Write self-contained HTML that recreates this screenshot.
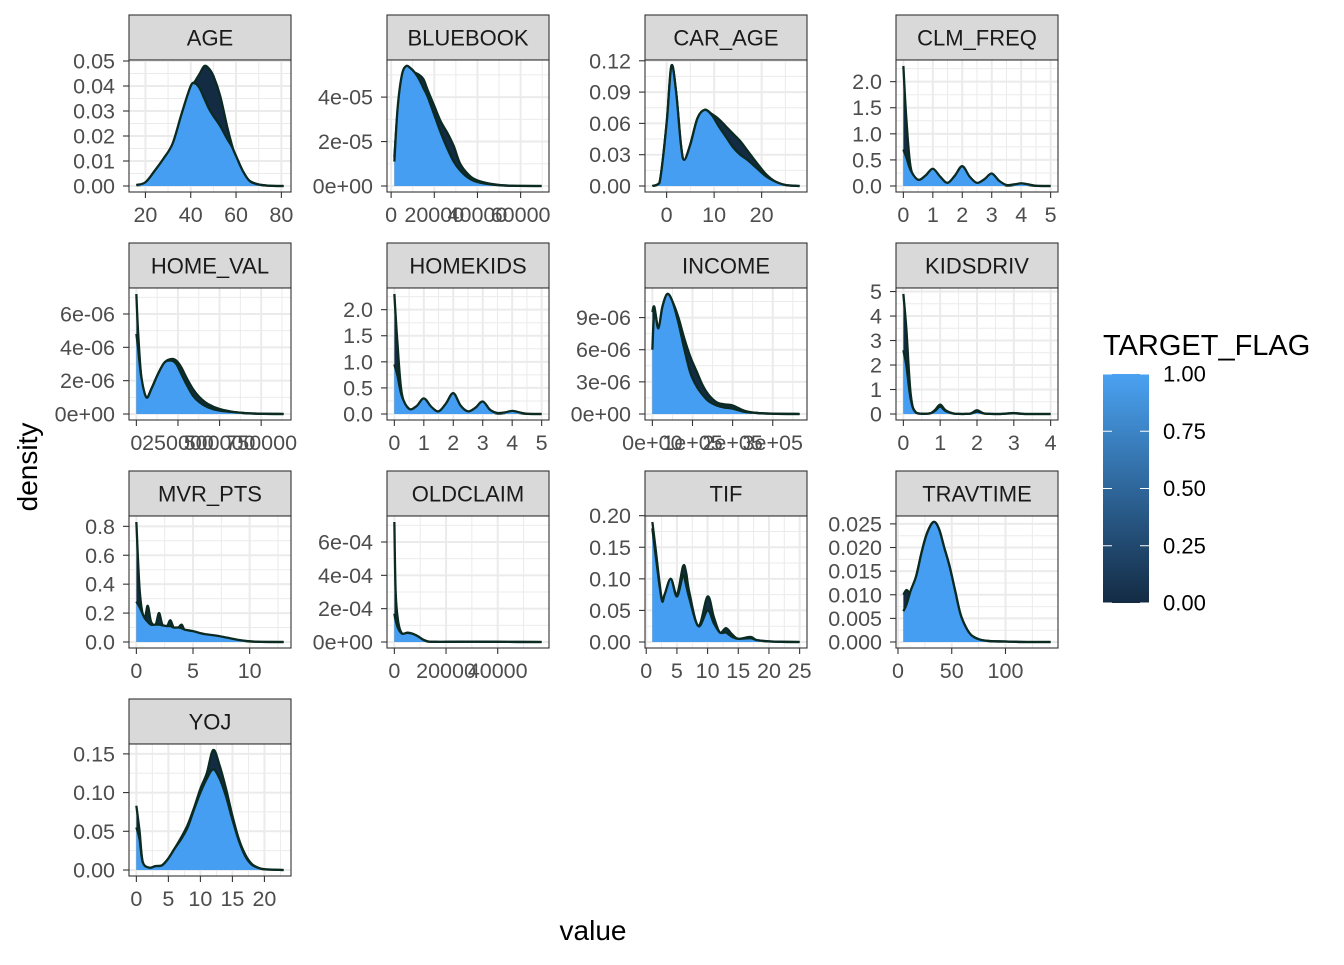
<!DOCTYPE html>
<html><head><meta charset="utf-8">
<style>
html,body{margin:0;padding:0;background:#fff;}
svg text{font-family:"Liberation Sans",Arial,sans-serif;}
</style></head>
<body>
<svg id="chart" width="1344" height="960" viewBox="0 0 1344 960" xmlns="http://www.w3.org/2000/svg">
<defs>
<linearGradient id="cbar" x1="0" y1="1" x2="0" y2="0">
<stop offset="0" stop-color="#132B43"/><stop offset="1" stop-color="#4aa2f2"/>
</linearGradient>
</defs>
<text x="0" y="0" transform="translate(37,467) rotate(-90)" font-size="28" text-anchor="middle" fill="#000">density</text>
<text x="593" y="940" font-size="28" text-anchor="middle" fill="#000">value</text>
<g>
<text x="1103" y="355" font-size="29" fill="#000">TARGET_FLAG</text>
<rect x="1103" y="374" width="46" height="229" fill="url(#cbar)"/>
<g id="legendTicks"></g>
</g>
<g id="panels"></g>
</svg>
<script>
// ---- data ----
const panelNames = ["AGE","BLUEBOOK","CAR_AGE","CLM_FREQ","HOME_VAL","HOMEKIDS","INCOME","KIDSDRIV","MVR_PTS","OLDCLAIM","TIF","TRAVTIME","YOJ"];

const ageX = [16,20,24,28,32,36,40,42,44,46,48,50,53,56,58,60,63,66,70,75,81];
const ageFlag0 = [0.0003,0.001,0.005,0.010,0.016,0.028,0.039,0.042,0.045,0.048,0.047,0.044,0.036,0.024,0.017,0.011,0.005,0.002,0.0006,0.0001,0];
const ageFlag1 = [0.0004,0.0015,0.006,0.011,0.017,0.029,0.040,0.041,0.039,0.035,0.031,0.028,0.024,0.019,0.016,0.012,0.006,0.002,0.0006,0.0001,0];

const bluebookX = [1500,3000,5000,7000,9000,11000,13000,15000,17000,20000,23000,26000,29000,32000,36000,40000,48000,56000,69740];
const bluebookFlag0 = [1.3e-5,3.3e-5,4.8e-5,5.3e-5,5.2e-5,5.1e-5,5.0e-5,4.8e-5,4.3e-5,3.6e-5,2.9e-5,2.4e-5,1.8e-5,1.0e-5,5e-6,2.5e-6,7e-7,1e-7,0];
const bluebookFlag1 = [1.1e-5,3.5e-5,5.0e-5,5.4e-5,5.3e-5,5.1e-5,4.8e-5,4.4e-5,4.0e-5,3.2e-5,2.4e-5,1.7e-5,1.1e-5,7e-6,3.5e-6,1.8e-6,5e-7,1e-7,0];

const carAgeX = [-3,-1.5,0,1,2,3,3.7,5,6.5,8,9.5,11,12.5,14,15.5,17,19,21,23,25,28];
const carAgeFlag0 = [0,0.003,0.06,0.115,0.09,0.04,0.025,0.04,0.065,0.073,0.069,0.064,0.057,0.05,0.043,0.034,0.022,0.011,0.004,0.001,0];
const carAgeFlag1 = [0,0.003,0.06,0.115,0.09,0.04,0.025,0.04,0.065,0.073,0.068,0.057,0.047,0.037,0.03,0.025,0.017,0.009,0.004,0.001,0];

const clmFreqX = [0,0.1,0.25,0.5,0.75,1,1.25,1.5,1.75,2,2.25,2.5,2.75,3,3.25,3.5,3.75,4,4.25,4.5,5];
const clmFreqFlag0 = [2.3,1.3,0.35,0.08,0.15,0.28,0.12,0.03,0.15,0.30,0.12,0.03,0.1,0.22,0.08,0.01,0.02,0.05,0.02,0.003,0];
const clmFreqFlag1 = [0.7,0.55,0.3,0.12,0.2,0.33,0.18,0.06,0.2,0.38,0.18,0.06,0.13,0.24,0.1,0.02,0.03,0.05,0.03,0.005,0];

const homeValX = [0,10000,30000,60000,90000,130000,170000,210000,240000,270000,300000,340000,380000,430000,500000,600000,700000,885000];
const homeValFlag0 = [7.2e-6,5e-6,2.2e-6,1.0e-6,1.5e-6,2.4e-6,3.1e-6,3.3e-6,3.2e-6,2.8e-6,2.2e-6,1.5e-6,1.0e-6,6e-7,3e-7,1e-7,3e-8,0];
const homeValFlag1 = [4.8e-6,4e-6,2.2e-6,1.0e-6,1.5e-6,2.4e-6,3.1e-6,3.2e-6,3.0e-6,2.4e-6,1.8e-6,1.1e-6,7e-7,4e-7,2e-7,1e-7,3e-8,0];

const homeKidsX = [0,0.1,0.25,0.5,0.75,1,1.25,1.5,1.75,2,2.25,2.5,2.75,3,3.25,3.5,3.75,4,4.25,4.5,5];
const homeKidsFlag0 = [2.3,1.4,0.4,0.07,0.12,0.24,0.1,0.03,0.15,0.32,0.12,0.03,0.08,0.2,0.06,0.01,0.02,0.05,0.02,0.003,0];
const homeKidsFlag1 = [0.95,0.75,0.35,0.1,0.15,0.3,0.14,0.05,0.2,0.4,0.16,0.05,0.12,0.24,0.08,0.02,0.03,0.06,0.03,0.005,0];

const incomeX = [0,5000,15000,25000,37000,50000,65000,80000,95000,110000,125000,140000,160000,180000,200000,230000,260000,300000,367000];
const incomeFlag0 = [9.5e-6,1.0e-5,8e-6,1.0e-5,1.12e-5,1.05e-5,9.0e-6,7e-6,5.3e-6,4e-6,2.7e-6,1.8e-6,1.1e-6,9e-7,8e-7,3e-7,1e-7,3e-8,0];
const incomeFlag1 = [6e-6,9.5e-6,8e-6,1.0e-5,1.12e-5,1.05e-5,8.5e-6,6e-6,3.8e-6,2.6e-6,1.8e-6,1.2e-6,8e-7,6e-7,5e-7,2e-7,1e-7,3e-8,0];

const kidsDrivX = [0,0.08,0.2,0.35,0.7,0.85,1,1.15,1.4,1.8,2,2.2,2.6,3,3.3,4];
const kidsDrivFlag0 = [4.9,3.5,0.8,0.05,0.02,0.15,0.38,0.15,0.01,0.01,0.15,0.02,0,0.04,0,0];
const kidsDrivFlag1 = [2.6,2.0,0.6,0.05,0.02,0.12,0.3,0.12,0.01,0.01,0.1,0.02,0,0.03,0,0];

const mvrPtsX = [0,0.3,0.7,1,1.3,1.7,2,2.3,2.7,3,3.3,3.7,4,4.3,5,6,7,8,9,10,11,13];
const mvrPtsFlag0 = [0.83,0.35,0.16,0.25,0.14,0.12,0.2,0.12,0.11,0.15,0.10,0.1,0.12,0.08,0.07,0.05,0.04,0.025,0.012,0.004,0.001,0];
const mvrPtsFlag1 = [0.28,0.24,0.17,0.14,0.12,0.12,0.12,0.115,0.11,0.11,0.10,0.1,0.095,0.085,0.075,0.055,0.045,0.03,0.015,0.005,0.001,0];

const oldClaimX = [0,500,1500,3000,5000,7000,9000,11000,13000,16000,20000,30000,40000,57000];
const oldClaimFlag0 = [7.2e-4,3e-4,1.2e-4,5e-5,5.5e-5,5e-5,3.5e-5,1.5e-5,3e-6,1e-6,1e-6,2e-6,1e-6,0];
const oldClaimFlag1 = [1.7e-4,1.3e-4,8e-5,5e-5,5.5e-5,5e-5,3.5e-5,1.5e-5,3e-6,1e-6,1e-6,2e-6,1e-6,0];

const tifX = [1,1.5,2.5,3,4,5,6,6.5,7,8.5,10,11,12,13,14,15,17,18,20,22,25];
const tifFlag0 = [0.19,0.15,0.07,0.075,0.1,0.075,0.12,0.11,0.08,0.025,0.072,0.04,0.015,0.022,0.012,0.005,0.008,0.003,0.001,0.0003,0];
const tifFlag1 = [0.18,0.14,0.068,0.075,0.1,0.072,0.105,0.09,0.07,0.025,0.05,0.03,0.015,0.015,0.008,0.005,0.006,0.003,0.001,0.0003,0];

const travTimeX = [5,8,12,17,22,27,33,38,43,48,53,58,63,68,75,85,100,120,142];
const travTimeFlag0 = [0.01,0.011,0.0105,0.014,0.019,0.023,0.0254,0.024,0.02,0.016,0.011,0.006,0.0032,0.0015,0.0006,0.0002,0.0001,0,0];
const travTimeFlag1 = [0.0065,0.008,0.011,0.014,0.019,0.023,0.0254,0.024,0.02,0.016,0.011,0.006,0.0032,0.0015,0.0006,0.0002,0.0001,0,0];

const yojX = [0,0.5,1,2,3,4,5,6,7,8,9,10,11,12,13,14,15,16,17,18,19,20,23];
const yojFlag0 = [0.083,0.05,0.01,0.003,0.005,0.006,0.015,0.028,0.042,0.058,0.08,0.105,0.125,0.155,0.135,0.105,0.07,0.04,0.02,0.008,0.003,0.001,0];
const yojFlag1 = [0.055,0.04,0.01,0.003,0.005,0.006,0.015,0.028,0.04,0.055,0.078,0.1,0.118,0.13,0.118,0.095,0.065,0.038,0.018,0.007,0.003,0.001,0];

// tick values and labels
const xTickVals = [[20,40,60,80],[0,20000,40000,60000],[0,10,20],[0,1,2,3,4,5],[0,250000,500000,750000],[0,1,2,3,4,5],[0,100000,200000,300000],[0,1,2,3,4],[0,5,10],[0,20000,40000],[0,5,10,15,20,25],[0,50,100],[0,5,10,15,20]];
const xTickLabels = [["20","40","60","80"],["0","20000","40000","60000"],["0","10","20"],["0","1","2","3","4","5"],["0","250000","500000","750000"],["0","1","2","3","4","5"],["0e+00","1e+05","2e+05","3e+05"],["0","1","2","3","4"],["0","5","10"],["0","20000","40000"],["0","5","10","15","20","25"],["0","50","100"],["0","5","10","15","20"]];
const yTickVals = [[0,0.01,0.02,0.03,0.04,0.05],[0,2e-5,4e-5],[0,0.03,0.06,0.09,0.12],[0,0.5,1,1.5,2],[0,2e-6,4e-6,6e-6],[0,0.5,1,1.5,2],[0,3e-6,6e-6,9e-6],[0,1,2,3,4,5],[0,0.2,0.4,0.6,0.8],[0,2e-4,4e-4,6e-4],[0,0.05,0.1,0.15,0.2],[0,0.005,0.01,0.015,0.02,0.025],[0,0.05,0.1,0.15]];
const yTickLabels = [["0.00","0.01","0.02","0.03","0.04","0.05"],["0e+00","2e-05","4e-05"],["0.00","0.03","0.06","0.09","0.12"],["0.0","0.5","1.0","1.5","2.0"],["0e+00","2e-06","4e-06","6e-06"],["0.0","0.5","1.0","1.5","2.0"],["0e+00","3e-06","6e-06","9e-06"],["0","1","2","3","4","5"],["0.0","0.2","0.4","0.6","0.8"],["0e+00","2e-04","4e-04","6e-04"],["0.00","0.05","0.10","0.15","0.20"],["0.000","0.005","0.010","0.015","0.020","0.025"],["0.00","0.05","0.10","0.15"]];
const legendVals = [0,0.25,0.5,0.75,1];
const legendLabels = ["0.00","0.25","0.50","0.75","1.00"];

const seriesX = [ageX,bluebookX,carAgeX,clmFreqX,homeValX,homeKidsX,incomeX,kidsDrivX,mvrPtsX,oldClaimX,tifX,travTimeX,yojX];
const seriesF0 = [ageFlag0,bluebookFlag0,carAgeFlag0,clmFreqFlag0,homeValFlag0,homeKidsFlag0,incomeFlag0,kidsDrivFlag0,mvrPtsFlag0,oldClaimFlag0,tifFlag0,travTimeFlag0,yojFlag0];
const seriesF1 = [ageFlag1,bluebookFlag1,carAgeFlag1,clmFreqFlag1,homeValFlag1,homeKidsFlag1,incomeFlag1,kidsDrivFlag1,mvrPtsFlag1,oldClaimFlag1,tifFlag1,travTimeFlag1,yojFlag1];

// ---- layout ----
const NS = "http://www.w3.org/2000/svg";
const colLeft = [129,387,645,896];
const PW = 162, STRIP = 45, PH = 132, ROW0 = 15, ROWSTEP = 228;
const FS = 21.5;
function mk(tag, attrs, parent){const e=document.createElementNS(NS,tag);for(const k in attrs)e.setAttribute(k,attrs[k]);parent.appendChild(e);return e;}

function smoothPath(pts, base){
  let d = "M"+pts[0][0].toFixed(2)+","+pts[0][1].toFixed(2);
  for(let i=0;i<pts.length-1;i++){
    const p0=pts[Math.max(0,i-1)],p1=pts[i],p2=pts[i+1],p3=pts[Math.min(pts.length-1,i+2)];
    const c1=[p1[0]+(p2[0]-p0[0])/6,Math.min(base,p1[1]+(p2[1]-p0[1])/6)];
    const c2=[p2[0]-(p3[0]-p1[0])/6,Math.min(base,p2[1]-(p3[1]-p1[1])/6)];
    d+=" C"+c1[0].toFixed(2)+","+c1[1].toFixed(2)+" "+c2[0].toFixed(2)+","+c2[1].toFixed(2)+" "+p2[0].toFixed(2)+","+p2[1].toFixed(2);
  }
  return d;
}

const root = document.getElementById("panels");
panelNames.forEach((name, i) => {
  const col = i % 4, row = Math.floor(i / 4);
  const L = colLeft[col], T = ROW0 + row*ROWSTEP, PT = T + STRIP, PB = PT + PH;
  const xs = seriesX[i], f0 = seriesF0[i], f1 = seriesF1[i];
  const xmin = Math.min(...xs), xmax = Math.max(...xs);
  const ymax = Math.max(...f0, ...f1);
  const xr = xmax - xmin;
  const x0 = xmin - 0.05*xr, x1 = xmax + 0.05*xr;
  const y0 = -0.05*ymax, y1 = 1.05*ymax;
  const sx = v => L + (v - x0)/(x1 - x0)*PW;
  const sy = v => PB - (v - y0)/(y1 - y0)*PH;

  const g = mk("g", {}, root);
  
  
  const st = mk("rect", {x:L, y:T, width:PW, height:STRIP, fill:"#d9d9d9", stroke:"#333", "stroke-width":1.1}, g);
  
  
  const stt = mk("text", {x:L+PW/2, y:T+STRIP/2+8, "font-size":22, "text-anchor":"middle", fill:"#1a1a1a"}, g);
  stt.textContent = name;
  
  
  mk("rect", {x:L, y:PT, width:PW, height:PH, fill:"#fff"}, g);
  const xt = xTickVals[i], yt = yTickVals[i];
  const xstep = xt[1]-xt[0], ystep = yt[1]-yt[0];
  const gridG = mk("g", {}, g);
  
  
  for(let v = xt[0]-xstep/2; v <= x1; v += xstep){ if(v>=x0){const p=sx(v); mk("line",{x1:p,x2:p,y1:PT,y2:PB,stroke:"#ebebeb","stroke-width":1},gridG);} }
  for(let v = yt[0]-ystep/2; v <= y1; v += ystep){ if(v>=y0){const p=sy(v); mk("line",{x1:L,x2:L+PW,y1:p,y2:p,stroke:"#ebebeb","stroke-width":1},gridG);} }
  xt.forEach(v=>{const p=sx(v); if(p>=L&&p<=L+PW) mk("line",{x1:p,x2:p,y1:PT,y2:PB,stroke:"#ebebeb","stroke-width":2},gridG);});
  yt.forEach(v=>{const p=sy(v); if(p>=PT&&p<=PB) mk("line",{x1:L,x2:L+PW,y1:p,y2:p,stroke:"#ebebeb","stroke-width":2},gridG);});
  const base = sy(0);
  [[f0,"#132B43","target-0"],[f1,"#469ef2","target-1"]].forEach(([ys,fill,nm])=>{
    const pts = xs.map((x,k)=>[sx(x), sy(ys[k])]);
    const line = smoothPath(pts, base);
    const area = line + " L"+sx(xs[xs.length-1]).toFixed(2)+","+base.toFixed(2)+" L"+sx(xs[0]).toFixed(2)+","+base.toFixed(2)+" Z";
    const a = mk("path",{d:area, fill:fill, stroke:"none"}, g);
    
    
    const l = mk("path",{d:line, fill:"none", stroke:"#0b2a22", "stroke-width":2.3, "stroke-linejoin":"round"}, g);
    
    
  });
  mk("rect", {x:L, y:PT, width:PW, height:PH, fill:"none", stroke:"#333", "stroke-width":1.1}, g);
  xt.forEach((v,k)=>{const p=sx(v);
    mk("line",{x1:p,x2:p,y1:PB,y2:PB+6,stroke:"#333","stroke-width":1.1},g);
    const t=mk("text",{x:p,y:PB+30,"font-size":FS,"text-anchor":"middle",fill:"#4d4d4d"},g);
    t.textContent=xTickLabels[i][k];
    
    
  });
  yt.forEach((v,k)=>{const p=sy(v);
    mk("line",{x1:L-6,x2:L,y1:p,y2:p,stroke:"#333","stroke-width":1.1},g);
    const t=mk("text",{x:L-14,y:p+7.5,"font-size":FS,"text-anchor":"end",fill:"#4d4d4d"},g);
    t.textContent=yTickLabels[i][k];
    
    
  });
});

const lg = document.getElementById("legendTicks");
const cbTop = 374, cbBot = 603, cbL = 1103, cbW = 46;
legendVals.forEach((v,k)=>{
  const y = cbBot - v*(cbBot-cbTop);
  mk("line",{x1:cbL,x2:cbL+9,y1:y,y2:y,stroke:"#fff","stroke-width":1},lg);
  mk("line",{x1:cbL+cbW-9,x2:cbL+cbW,y1:y,y2:y,stroke:"#fff","stroke-width":1},lg);
  const t = mk("text",{x:1163,y:y+7.5,"font-size":22,fill:"#000"},lg);
  t.textContent = legendLabels[k];
  
  
});
</script>
</body></html>
